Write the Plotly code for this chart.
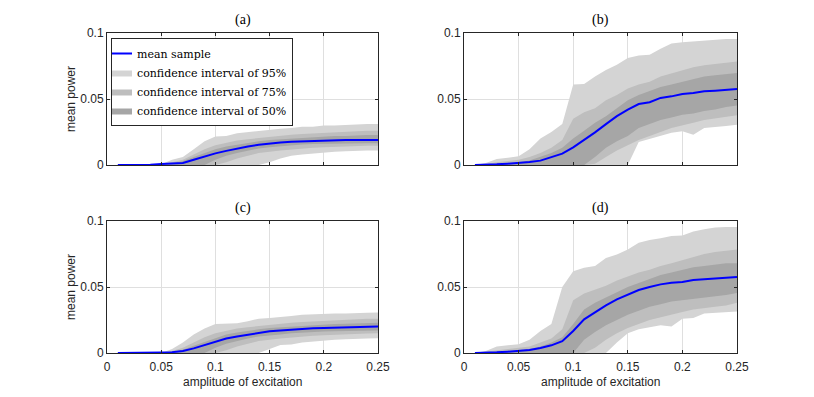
import plotly.graph_objects as go

# ---------------- data ----------------
AMPLITUDE = [0.01, 0.02, 0.03, 0.04, 0.05, 0.06, 0.07, 0.08, 0.09, 0.10,
             0.11, 0.12, 0.13, 0.14, 0.15, 0.16, 0.17, 0.18, 0.19, 0.20,
             0.21, 0.22, 0.23, 0.24, 0.25]

# panel (a)
MEAN_A = [0, 0, 0, 0.0002, 0.0008, 0.001, 0.0015, 0.004, 0.0065, 0.0088, 0.0107, 0.0125, 0.014,
          0.0154, 0.0164, 0.017, 0.0177, 0.018, 0.0184, 0.0187, 0.0189, 0.019, 0.019, 0.019, 0.019]
HI95_A = [0, 0, 0, 0, 0.0005, 0.004, 0.006, 0.012, 0.018, 0.0215, 0.022, 0.024, 0.025,
          0.026, 0.027, 0.0275, 0.028, 0.029, 0.029, 0.030, 0.030, 0.0305, 0.0305, 0.031, 0.031]
LO95_A = [0, 0, 0, 0, 0, 0, 0, 0, 0, 0, 0, 0, 0, 0,
          0.002, 0.005, 0.007, 0.008, 0.009, 0.0095, 0.010, 0.0105, 0.011, 0.011, 0.011]
HI75_A = [0, 0, 0, 0, 0.0003, 0.002, 0.004, 0.008, 0.012, 0.015, 0.017, 0.0185, 0.0195,
          0.0205, 0.0215, 0.022, 0.023, 0.0235, 0.024, 0.0245, 0.025, 0.0255, 0.026, 0.026, 0.026]
LO75_A = [0, 0, 0, 0, 0, 0, 0, 0, 0, 0,
          0.002, 0.005, 0.007, 0.009, 0.010, 0.011, 0.012, 0.0125, 0.013, 0.0135, 0.014, 0.014, 0.0143, 0.0145, 0.0145]
HI50_A = [0, 0, 0, 0, 0.0001, 0.001, 0.003, 0.006, 0.009, 0.012, 0.014, 0.0155, 0.017,
          0.018, 0.019, 0.0195, 0.020, 0.021, 0.021, 0.0215, 0.022, 0.022, 0.0225, 0.0227, 0.0227]
LO50_A = [0, 0, 0, 0, 0, 0, 0, 0, 0,
          0.004, 0.007, 0.009, 0.011, 0.0125, 0.0135, 0.014, 0.015, 0.0155, 0.016, 0.016, 0.0163, 0.0165, 0.0165, 0.0165, 0.0165]

# panel (b)
MEAN_B = [0, 0, 0.0005, 0.001, 0.0015, 0.0023, 0.0033, 0.0058, 0.0086, 0.0134, 0.019, 0.0247, 0.031,
          0.037, 0.042, 0.0462, 0.0475, 0.0508, 0.052, 0.0538, 0.0545, 0.0558, 0.0563, 0.057, 0.0576]
HI95_B = [0, 0.0015, 0.0045, 0.0053, 0.0066, 0.012, 0.020, 0.025, 0.031, 0.061, 0.0613, 0.067, 0.072,
          0.076, 0.081, 0.083, 0.0836, 0.088, 0.092, 0.093, 0.0937, 0.094, 0.095, 0.0955, 0.0955]
LO95_B = [0, 0, 0, 0, 0, 0, 0, 0, 0, 0, 0, 0, 0, 0, 0,
          0.0175, 0.0195, 0.022, 0.0245, 0.0255, 0.023, 0.028, 0.0285, 0.0295, 0.0305]
HI75_B = [0, 0.0005, 0.002, 0.003, 0.004, 0.006, 0.009, 0.013, 0.019, 0.035, 0.040, 0.043, 0.049,
          0.053, 0.058, 0.061, 0.063, 0.067, 0.0695, 0.072, 0.074, 0.0755, 0.0765, 0.078, 0.0785]
LO75_B = [0, 0, 0, 0, 0, 0, 0, 0, 0, 0, 0,
          0.001, 0.006, 0.011, 0.015, 0.019, 0.022, 0.025, 0.028, 0.030, 0.032, 0.034, 0.035, 0.0365, 0.0376]
HI50_B = [0, 0.0003, 0.001, 0.0015, 0.002, 0.0035, 0.006, 0.009, 0.013, 0.020, 0.026, 0.032, 0.037,
          0.043, 0.049, 0.053, 0.056, 0.059, 0.061, 0.063, 0.065, 0.067, 0.068, 0.069, 0.0697]
LO50_B = [0, 0, 0, 0, 0, 0, 0, 0, 0, 0, 0,
          0.006, 0.013, 0.018, 0.022, 0.028, 0.031, 0.034, 0.036, 0.038, 0.039, 0.041, 0.042, 0.044, 0.045]

# panel (c)
MEAN_C = [0, 0, 0, 0.0002, 0.0004, 0.0006, 0.0015, 0.0035, 0.006, 0.0085, 0.011, 0.0125, 0.014,
          0.0155, 0.0165, 0.017, 0.0177, 0.0183, 0.0187, 0.019, 0.0192, 0.0195, 0.0197, 0.0198, 0.020]
HI95_C = [0, 0, 0, 0, 0, 0.003, 0.008, 0.014, 0.0185, 0.022, 0.022, 0.0225, 0.024,
          0.026, 0.0265, 0.027, 0.028, 0.029, 0.0295, 0.0297, 0.030, 0.030, 0.0305, 0.0305, 0.0306]
LO95_C = [0, 0, 0, 0, 0, 0, 0, 0, 0, 0, 0, 0, 0, 0,
          0.003, 0.006, 0.0065, 0.008, 0.009, 0.0095, 0.010, 0.0105, 0.011, 0.011, 0.0112]
HI75_C = [0, 0, 0, 0, 0, 0.0015, 0.004, 0.008, 0.012, 0.015, 0.017, 0.0185, 0.0195,
          0.0205, 0.0215, 0.022, 0.023, 0.0235, 0.024, 0.0245, 0.025, 0.0255, 0.026, 0.026, 0.026]
LO75_C = [0, 0, 0, 0, 0, 0, 0, 0, 0, 0,
          0.002, 0.005, 0.007, 0.009, 0.010, 0.011, 0.012, 0.0125, 0.013, 0.0135, 0.014, 0.0143, 0.0145, 0.0147, 0.015]
HI50_C = [0, 0, 0, 0, 0, 0.0008, 0.0025, 0.0055, 0.0085, 0.0115, 0.014, 0.0155, 0.017,
          0.018, 0.019, 0.0195, 0.020, 0.021, 0.0213, 0.0217, 0.022, 0.0222, 0.0225, 0.0227, 0.023]
LO50_C = [0, 0, 0, 0, 0, 0, 0, 0, 0,
          0.004, 0.007, 0.009, 0.011, 0.0125, 0.0135, 0.014, 0.015, 0.0155, 0.016, 0.0163, 0.0165, 0.0168, 0.017, 0.017, 0.017]

# panel (d)
MEAN_D = [0, 0, 0.0005, 0.001, 0.0015, 0.0023, 0.0038, 0.0058, 0.009, 0.0167, 0.0255, 0.031, 0.036,
          0.0407, 0.0444, 0.0477, 0.050, 0.052, 0.0533, 0.0538, 0.0553, 0.0558, 0.0566, 0.057, 0.0576]
HI95_D = [0, 0.0015, 0.005, 0.006, 0.0066, 0.010, 0.0167, 0.022, 0.050, 0.062, 0.0646, 0.066, 0.072,
          0.0747, 0.0785, 0.0836, 0.0856, 0.087, 0.0886, 0.089, 0.092, 0.0937, 0.095, 0.0955, 0.0955]
LO95_D = [0, 0, 0, 0, 0, 0, 0, 0, 0, 0, 0, 0, 0,
          0.008, 0.015, 0.018, 0.0195, 0.021, 0.020, 0.026, 0.0265, 0.030, 0.030, 0.031, 0.0315]
HI75_D = [0, 0.001, 0.002, 0.003, 0.004, 0.005, 0.008, 0.011, 0.018, 0.040, 0.045, 0.048, 0.051,
          0.055, 0.058, 0.061, 0.063, 0.066, 0.068, 0.0705, 0.073, 0.075, 0.0765, 0.0775, 0.0785]
LO75_D = [0, 0, 0, 0, 0, 0, 0, 0, 0, 0, 0,
          0.004, 0.010, 0.015, 0.019, 0.022, 0.025, 0.027, 0.029, 0.031, 0.033, 0.034, 0.035, 0.036, 0.038]
HI50_D = [0, 0.0003, 0.001, 0.0015, 0.002, 0.003, 0.005, 0.008, 0.012, 0.022, 0.033, 0.038, 0.042,
          0.046, 0.050, 0.053, 0.056, 0.059, 0.061, 0.063, 0.065, 0.066, 0.067, 0.068, 0.068]
LO50_D = [0, 0, 0, 0, 0, 0, 0, 0, 0, 0,
          0.010, 0.016, 0.021, 0.025, 0.029, 0.032, 0.035, 0.037, 0.039, 0.040, 0.041, 0.042, 0.043, 0.044, 0.0455]

PANEL_TITLES = ["(a)", "(b)", "(c)", "(d)"]
X_TICKS = [0, 0.05, 0.1, 0.15, 0.2, 0.25]
X_TICK_TEXT = ["0", "0.05", "0.1", "0.15", "0.2", "0.25"]
Y_TICKS = [0, 0.05, 0.1]
Y_TICK_TEXT = ["0", "0.05", "0.1"]
BAND_NAMES = ["confidence interval of 95%", "confidence interval of 75%", "confidence interval of 50%"]
MEAN_NAME = "mean sample"
X_TITLE = "amplitude of excitation"
Y_TITLE = "mean power"

PANELS = [
    (MEAN_A, [(HI95_A, LO95_A), (HI75_A, LO75_A), (HI50_A, LO50_A)]),
    (MEAN_B, [(HI95_B, LO95_B), (HI75_B, LO75_B), (HI50_B, LO50_B)]),
    (MEAN_C, [(HI95_C, LO95_C), (HI75_C, LO75_C), (HI50_C, LO50_C)]),
    (MEAN_D, [(HI95_D, LO95_D), (HI75_D, LO75_D), (HI50_D, LO50_D)]),
]

# ---------------- styling ----------------
W, H = 814, 397
BAND_COLORS = ["rgb(212,212,212)", "rgb(190,190,190)", "rgb(166,166,166)"]
LINE_COLOR = "rgb(0,0,255)"
AX_COLOR = "#262626"
GRID_COLOR = "rgb(223,223,223)"
SANS = "Liberation Sans, Arial, sans-serif"
SERIF = "Liberation Serif, Times New Roman, serif"
LEGEND_SERIF = "DejaVu Serif, serif"

X_DOMAINS = [[107 / W, 378 / W], [464 / W, 737 / W]]
Y_DOMAINS = [[1 - 165 / H, 1 - 33 / H], [1 - 353 / H, 1 - 221 / H]]

fig = go.Figure()

for i, (mean, bands) in enumerate(PANELS):
    k = "" if i == 0 else str(i + 1)
    xa, ya = "x" + k, "y" + k
    for j, (hi, lo) in enumerate(bands):
        fig.add_trace(go.Scatter(
            x=AMPLITUDE + AMPLITUDE[::-1],
            y=hi + lo[::-1],
            fill="toself", fillcolor=BAND_COLORS[j],
            mode="lines", line=dict(width=0, color=BAND_COLORS[j]),
            name=BAND_NAMES[j], showlegend=(i == 0), legendrank=2 + j,
            hoverinfo="skip", xaxis=xa, yaxis=ya,
        ))
    fig.add_trace(go.Scatter(
        x=AMPLITUDE, y=mean, mode="lines",
        line=dict(color=LINE_COLOR, width=2),
        name=MEAN_NAME, showlegend=(i == 0), legendrank=1,
        xaxis=xa, yaxis=ya,
    ))

layout = dict(
    template="none",
    width=W, height=H,
    margin=dict(l=0, r=0, t=0, b=0, pad=0, autoexpand=False),
    paper_bgcolor="white", plot_bgcolor="white",
    font=dict(family=SANS, size=12, color=AX_COLOR),
    legend=dict(
        x=111 / W, y=1 - 38 / H, xanchor="left", yanchor="top",
        bgcolor="white", bordercolor=AX_COLOR, borderwidth=1,
        font=dict(family=LEGEND_SERIF, size=11, color="black"),
        tracegroupgap=0, itemwidth=30, indentation=-15,
    ),
    annotations=[],
)

for i in range(4):
    k = "" if i == 0 else str(i + 1)
    row, col = divmod(i, 2)
    axcommon = dict(
        showline=True, linecolor=AX_COLOR, linewidth=1, mirror="ticks",
        ticks="inside", ticklen=3, tickcolor=AX_COLOR, automargin=False,
        showgrid=True, gridcolor=GRID_COLOR, gridwidth=1,
        zeroline=False, tickfont=dict(family=SANS, size=12, color=AX_COLOR),
    )
    layout["xaxis" + k] = dict(
        axcommon, domain=X_DOMAINS[col], range=[0, 0.25],
        tickvals=X_TICKS, ticktext=X_TICK_TEXT, ticklabelstandoff=3,
        showticklabels=(row == 1), anchor="y" + k,
    )
    layout["yaxis" + k] = dict(
        axcommon, domain=Y_DOMAINS[row], range=[0, 0.1],
        tickvals=Y_TICKS, ticktext=Y_TICK_TEXT, anchor="x" + k,
    )
    xc = (X_DOMAINS[col][0] + X_DOMAINS[col][1]) / 2
    yc = (Y_DOMAINS[row][0] + Y_DOMAINS[row][1]) / 2
    layout["annotations"].append(dict(
        text=PANEL_TITLES[i], xref="paper", yref="paper",
        x=xc, y=Y_DOMAINS[row][1], yshift=3, xanchor="center", yanchor="bottom",
        showarrow=False, font=dict(family=SERIF, size=14, color="black"),
    ))
    if col == 0:
        layout["annotations"].append(dict(
            text=Y_TITLE, xref="paper", yref="paper",
            x=71 / W, y=yc, xanchor="center", yanchor="middle", textangle=-90,
            showarrow=False, font=dict(family=SANS, size=12, color=AX_COLOR),
        ))
    if row == 1:
        layout["annotations"].append(dict(
            text=X_TITLE, xref="paper", yref="paper",
            x=xc, y=1 - 382 / H, xanchor="center", yanchor="middle",
            showarrow=False, font=dict(family=SANS, size=12, color=AX_COLOR),
        ))

fig.update_layout(**layout)

POST = (
    "var gd=document.getElementById('{plot_id}');"
    "document.documentElement.style.margin='0';"
    "document.documentElement.style.overflow='hidden';"
    "document.body.style.margin='0';"
    "document.body.style.overflow='hidden';"
    "gd.style.position='fixed';gd.style.left='0px';gd.style.top='0px';"
)
fig.write_html("out.html", config={"displayModeBar": False}, post_script=POST)
